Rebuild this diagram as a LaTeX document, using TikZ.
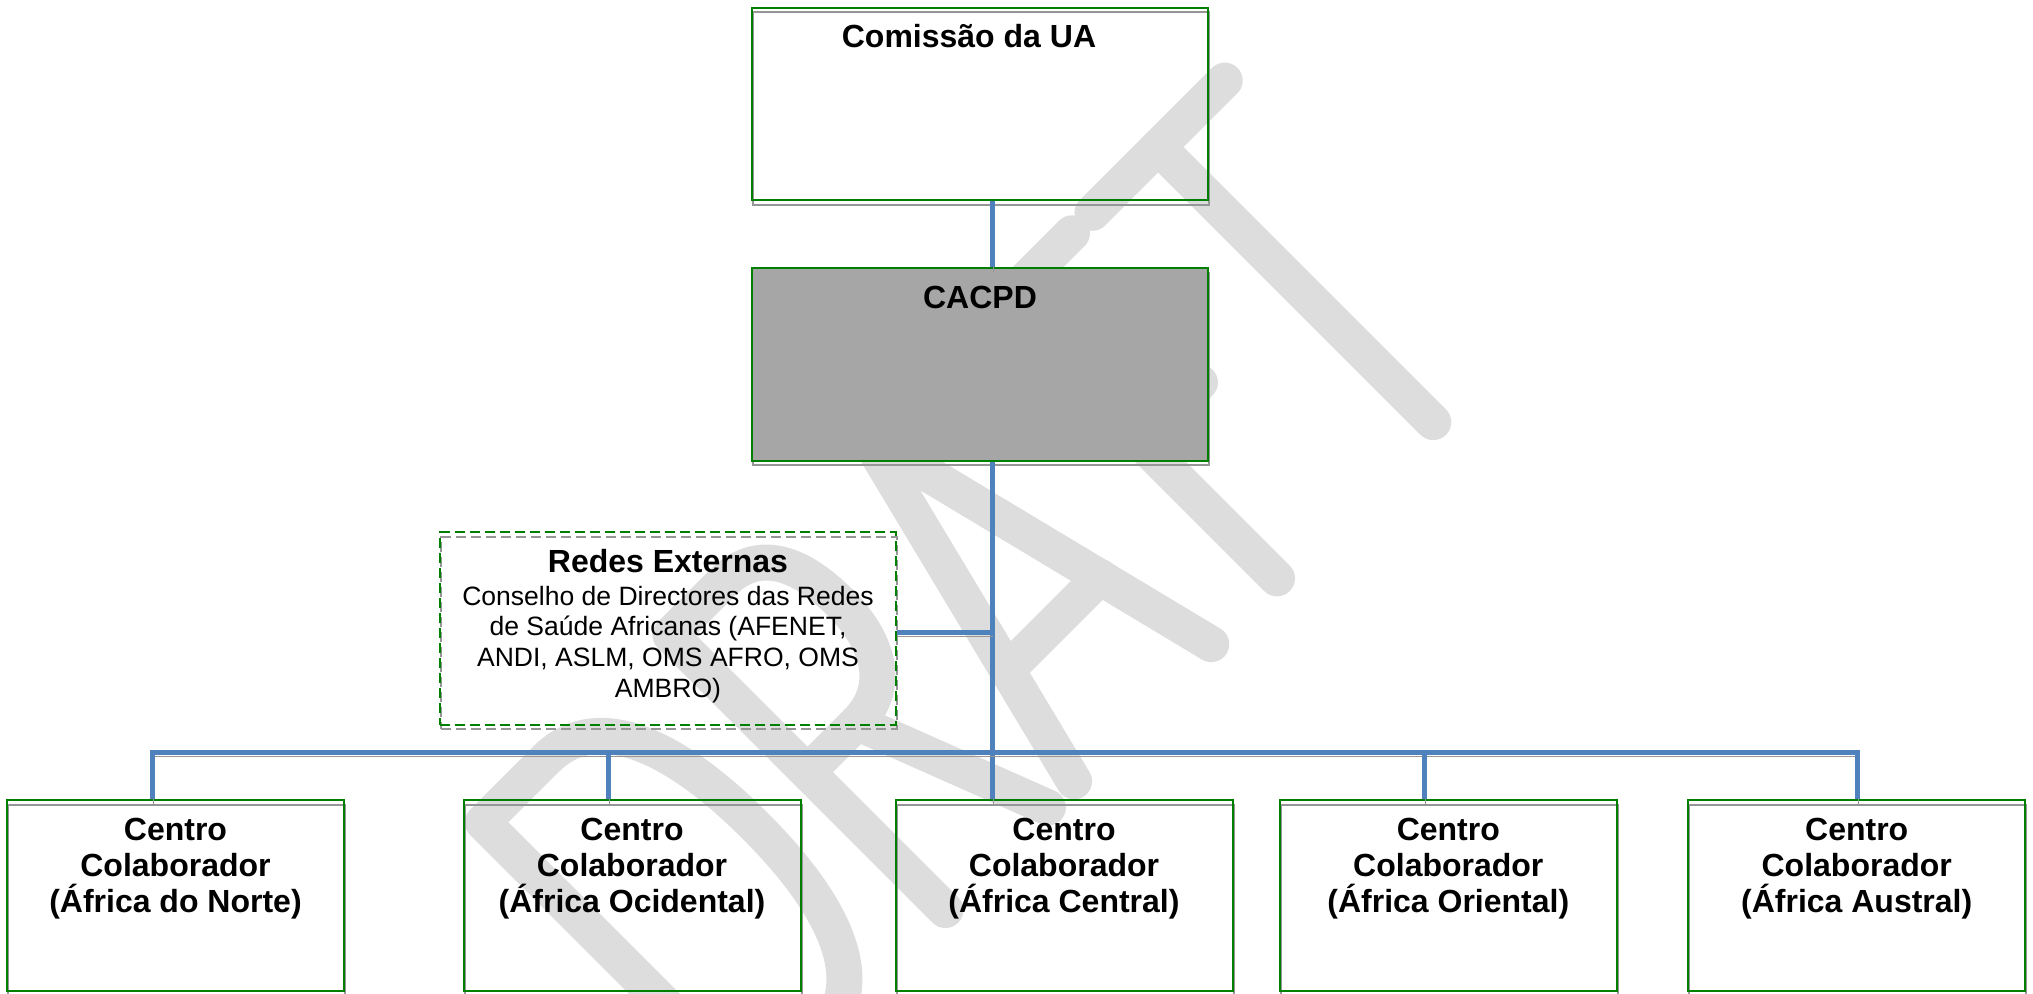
\documentclass[tikz,border=0pt]{standalone}
\usepackage{fontspec}
\setmainfont{Liberation Sans}

\definecolor{boxgreen}{RGB}{0,128,0}
\definecolor{linkblue}{RGB}{79,129,189}
\definecolor{shadowgray}{RGB}{150,150,150}
\definecolor{cacpdgray}{RGB}{166,166,166}
\definecolor{draftgray}{RGB}{221,221,221}

\tikzset{
  castshadow/.style={preaction={draw=shadowgray, transform canvas={shift={(0.75pt,-3.4pt)}}}},
  box/.style={castshadow, draw=boxgreen, line width=1.5pt, inner sep=0pt, minimum width=252.75pt, minimum height=143.25pt},
  bigbox/.style={box, minimum width=342pt, minimum height=144.5pt},
  netbox/.style={bigbox, dash pattern=on 7.5pt off 3.75pt},
  link/.style={castshadow, draw=linkblue, line width=3.75pt},
  title/.style={font=\bfseries\fontsize{24}{27}\selectfont, align=center, inner sep=0pt},
  body/.style={font=\fontsize{19.9}{23.1}\selectfont, align=center, inner sep=0pt},
  draft/.style={color=draftgray, line width=27pt, line cap=round, line join=round}
}

\begin{document}
\begin{tikzpicture}[x=0.75pt,y=0.75pt,yscale=-1,xscale=1]
\useasboundingbox (0,0) rectangle (2033,994);

%Watermark DRAFT
\begin{scope}[shift={(927.7,927.7)}, yscale=-1, rotate=45, draft]
% D
\draw (-240,0) -- (-240,389) -- (-150,389) .. controls (-85,389) and (-50,320) .. (-50,194.5) .. controls (-50,69) and (-85,0) .. (-150,0) -- cycle;
% R
\draw (25,0) -- (25,389) -- (100,389) .. controls (145,389) and (168,355) .. (168,292) .. controls (168,230) and (140,195) .. (95,195) -- (25,195);
\draw (95,195) -- (170,0);
% A
\draw (207,0) -- (304,389) -- (401,0);
\draw (238,126) -- (370,126);
% F
\draw (593,389) -- (494,389) -- (494,0);
\draw (494,193) -- (578,193);
% T
\draw (622,389) -- (809,389);
\draw (715,389) -- (715,0);
\end{scope}

%Shape: Rectangle
\node[bigbox] (ua) at (980,104) {};
%Shape: Rectangle
\node[bigbox, fill=cacpdgray] (cacpd) at (980,364.5) {};
%Shape: Rectangle
\node[netbox] (redes) at (668,628.5) {};
%Shape: Rectangle
\node[box] (cc1) at (175.5,895.5) {};
%Shape: Rectangle
\node[box] (cc2) at (632,895.5) {};
%Shape: Rectangle
\node[box] (cc3) at (1064,895.5) {};
%Shape: Rectangle
\node[box] (cc4) at (1448.3,895.5) {};
%Shape: Rectangle
\node[box] (cc5) at (1856.7,895.5) {};

\coordinate (b1) at (152,752);
\coordinate (b2) at (608,752);
\coordinate (b3) at (992,752);
\coordinate (b4) at (1424,752);
\coordinate (b5) at (1857,752);
\coordinate (sidejoin) at (992,632);

%Straight Lines
\draw[link] (ua.south -| b3) -- (cacpd.north -| b3);
%Straight Lines
\draw[link] (cacpd.south -| b3) -- (b3 |- cc3.north);
%Straight Lines
\draw[link] (redes.east |- sidejoin) -- (sidejoin);
%Straight Lines
\draw[link] (b1 |- cc1.north) -- (b1) -- (b5) -- (b5 |- cc5.north);
%Straight Lines
\draw[link] (b2) -- (b2 |- cc2.north);
%Straight Lines
\draw[link] (b4) -- (b4 |- cc4.north);

% Text Node
\node[title, anchor=base] (uatext) at (969,48) {Comissão da UA};
% Text Node
\node[title, anchor=base] (cacpdtext) at (980,309) {CACPD};
% Text Node
\node[body, anchor=north] (redestext) at (668,549) {{\bfseries\fontsize{24}{27}\selectfont Redes Externas}\\[1.4pt]Conselho de Directores das Redes\\de Saúde Africanas (AFENET,\\ANDI, ASLM, OMS AFRO, OMS\\AMBRO)};
% Text Node
\node[title, anchor=north] (cc1text) at (175.5,818) {Centro\\Colaborador\\(África do Norte)};
% Text Node
\node[title, anchor=north] (cc2text) at (632,818) {Centro\\Colaborador\\(África Ocidental)};
% Text Node
\node[title, anchor=north] (cc3text) at (1064,818) {Centro\\Colaborador\\(África Central)};
% Text Node
\node[title, anchor=north] (cc4text) at (1448.3,818) {Centro\\Colaborador\\(África Oriental)};
% Text Node
\node[title, anchor=north] (cc5text) at (1856.7,818) {Centro\\Colaborador\\(África Austral)};

\end{tikzpicture}
\end{document}
